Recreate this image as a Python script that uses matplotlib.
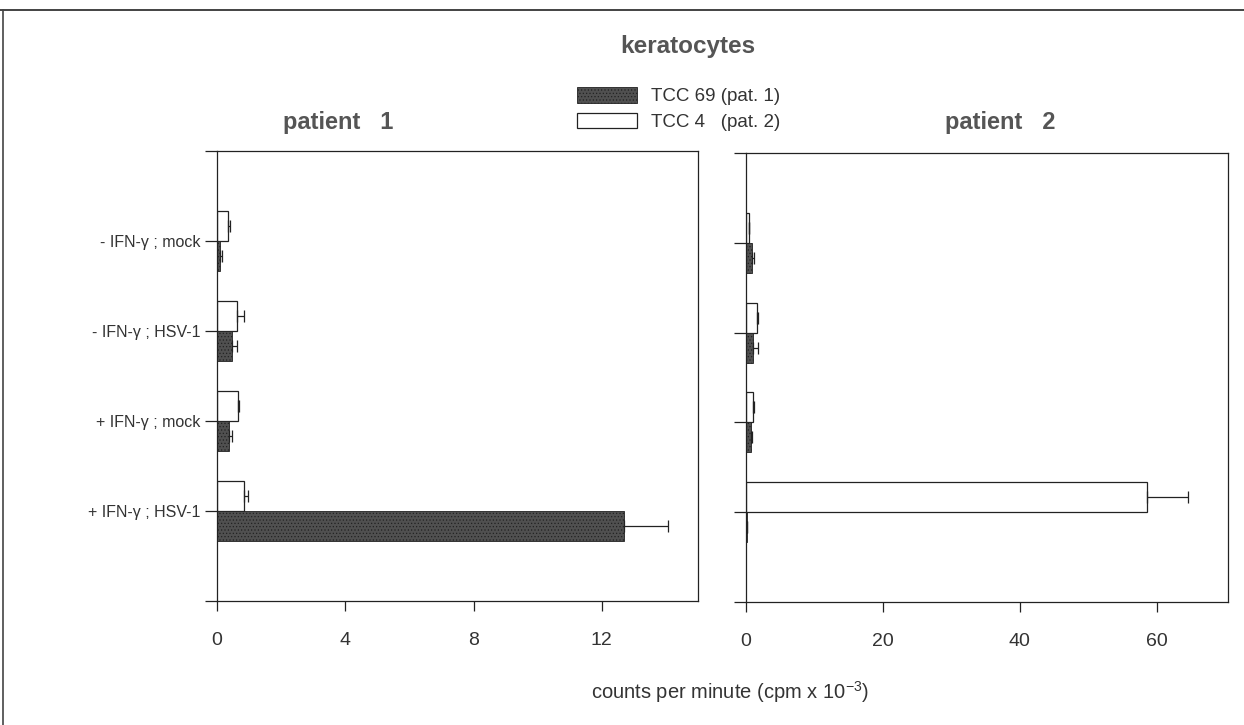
import numpy as np
import matplotlib
matplotlib.use("Agg")
import matplotlib.pyplot as plt
from matplotlib.patches import Patch
from matplotlib.lines import Line2D

plt.rcParams['font.family'] = ['Liberation Sans', 'DejaVu Sans']
plt.rcParams['mathtext.fontset'] = 'custom'
plt.rcParams['mathtext.rm'] = 'Liberation Sans'
plt.rcParams['mathtext.it'] = 'Liberation Sans'
plt.rcParams['hatch.color'] = '#8a8a8a'
plt.rcParams['hatch.linewidth'] = 0.5

# data (cpm x 10^-3)
conditions = ["- IFN-\u03b3 ; mock", "- IFN-\u03b3 ; HSV-1",
              "+ IFN-\u03b3 ; mock", "+ IFN-\u03b3 ; HSV-1"]
p1_tcc69 = [0.10, 0.46, 0.37, 12.68]
p1_tcc69_err = [0.05, 0.17, 0.10, 1.37]
p1_tcc4 = [0.35, 0.62, 0.65, 0.84]
p1_tcc4_err = [0.05, 0.22, 0.05, 0.13]
p2_tcc69 = [0.9, 1.0, 0.7, 0.1]
p2_tcc69_err = [0.3, 0.7, 0.2, 0.0]
p2_tcc4 = [0.4, 1.6, 1.0, 58.5]
p2_tcc4_err = [0.1, 0.2, 0.2, 6.0]
p1_ticks = [0, 4, 8, 12]
p2_ticks = [0, 20, 40, 60]

dark = '#505050'
txt = '#333333'

fig = plt.figure(figsize=(12.44, 7.25), dpi=100)
ax1 = fig.add_axes([217/1244, 1-601/725, 481/1244, 450/725])
ax2 = fig.add_axes([746/1244, 1-602/725, 482/1244, 449/725])

y = np.arange(len(conditions))
h = 0.335

def draw(ax, dvals, derr, wvals, werr, xmax, ticks):
    ax.barh(y - h/2, wvals, height=h, color='white', edgecolor='#222222', linewidth=0.9,
            xerr=[np.zeros(len(werr)), werr], error_kw=dict(ecolor='#222222', elinewidth=0.9, capsize=4, capthick=0.9))
    ax.barh(y + h/2, dvals, height=h, color=dark, edgecolor='#222222', linewidth=0.6, hatch='.....',
            xerr=[np.zeros(len(derr)), derr], error_kw=dict(ecolor='#222222', elinewidth=0.9, capsize=4, capthick=0.9))
    ax.set_xlim(0, xmax)
    ax.set_ylim(4, -1)
    ax.set_xticks(ticks)
    ax.set_yticks(y)
    ax.set_yticks([-1, 4], minor=True)
    ax.tick_params(axis='x', direction='out', length=7, width=0.9, colors='#222222',
                   labelsize=14, labelcolor=txt, pad=15)
    ax.tick_params(axis='y', which='both', direction='out', length=8.5, width=0.9, colors='#222222')
    for s in ax.spines.values():
        s.set_linewidth(0.9)
        s.set_color('#222222')

draw(ax1, p1_tcc69, p1_tcc69_err, p1_tcc4, p1_tcc4_err, 15, p1_ticks)
draw(ax2, p2_tcc69, p2_tcc69_err, p2_tcc4, p2_tcc4_err, 70.4, p2_ticks)
ax1.set_yticklabels(conditions, fontsize=11.5, color=txt)
ax2.set_yticklabels([])

fig.text(688/1244, 1-47/725, "keratocytes", ha='center', va='center',
         fontsize=17.5, fontweight='bold', color='#555555')
fig.text(338/1244, 1-122/725, "patient   1", ha='center', va='center',
         fontsize=17, fontweight='bold', color='#555555')
fig.text(1000/1244, 1-122/725, "patient   2", ha='center', va='center',
         fontsize=17, fontweight='bold', color='#555555')
fig.text(730/1244, 1-692/725, r"counts per minute (cpm x 10$^{-3}$)", ha='center', va='center',
         fontsize=14.5, color=txt)

handles = [Patch(facecolor=dark, edgecolor='#222222', linewidth=0.6, hatch='.....'),
           Patch(facecolor='white', edgecolor='#222222', linewidth=0.9)]
fig.legend(handles, ["TCC 69 (pat. 1)", "TCC 4   (pat. 2)"], loc='upper left',
           bbox_to_anchor=(577/1244, 1-87/725), frameon=False, fontsize=13.5,
           handlelength=3.2, handleheight=0.9, handletextpad=0.75, labelspacing=0.4,
           borderpad=0, borderaxespad=0, labelcolor=txt)

# frame of the scanned page
fig.add_artist(Line2D([0, 1], [1-10/725, 1-10/725], color='#222222', linewidth=1.2))
fig.add_artist(Line2D([3/1244, 3/1244], [0, 1-10/725], color='#444444', linewidth=1.2))

fig.savefig("out.png", dpi=100)
